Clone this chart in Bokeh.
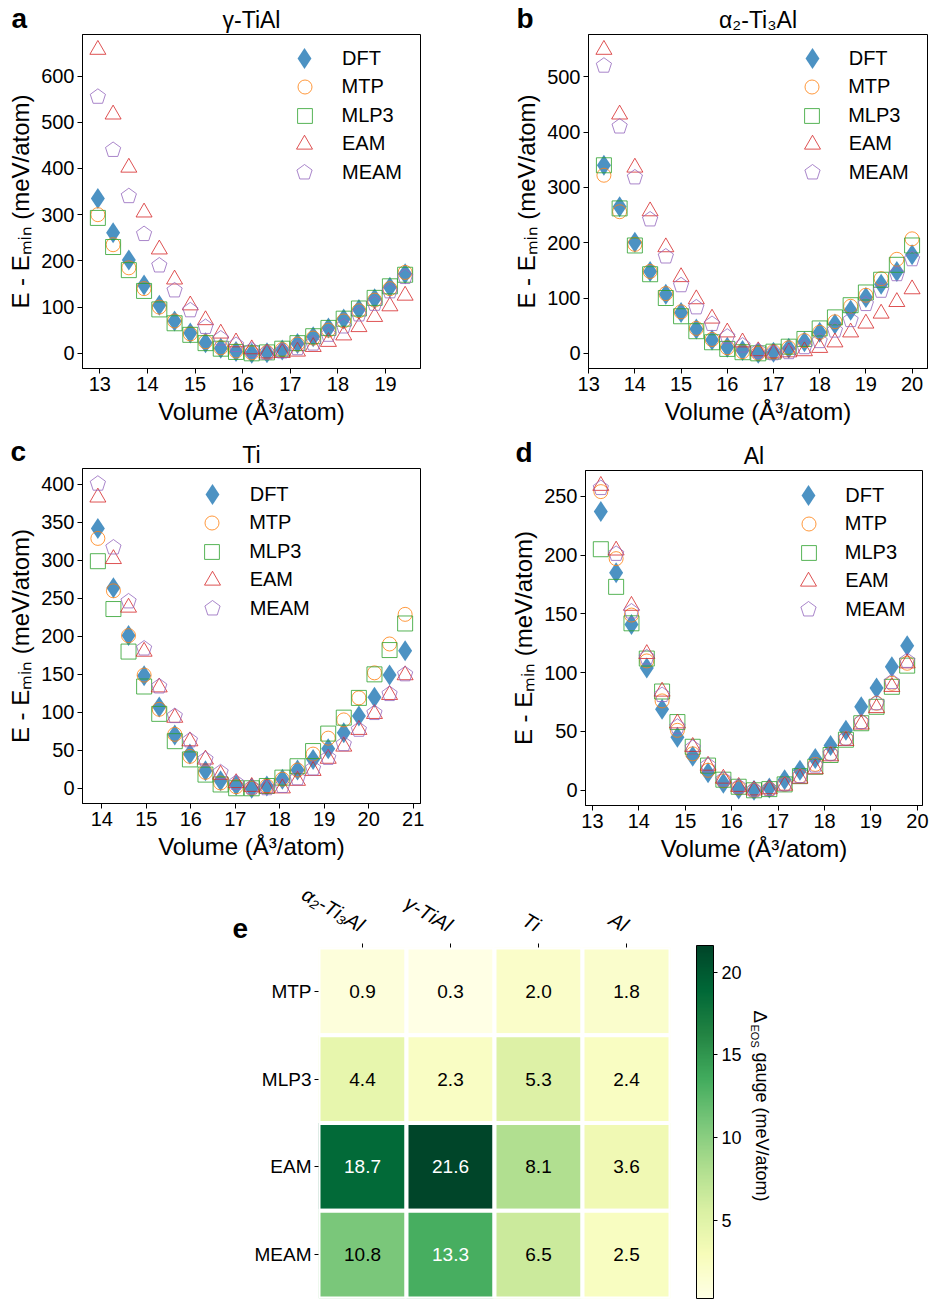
import numpy as np
from bokeh.plotting import figure
from bokeh.models import (Range1d, Legend, LegendItem, Label, FixedTicker, Plot,
                          LinearColorMapper, ColorBar, ColumnDataSource)
from bokeh.layouts import column, row
from bokeh.core.properties import value
from bokeh.embed import file_html
from bokeh.resources import INLINE

FONT = "Liberation Sans"

# ---------------- data ----------------
series_names = ["DFT", "MTP", "MLP3", "EAM", "MEAM"]

# panel a: gamma-TiAl
vol_a = [12.96, 13.28, 13.61, 13.93, 14.25, 14.57, 14.90, 15.22, 15.54, 15.86, 16.19,
         16.51, 16.83, 17.15, 17.48, 17.80, 18.12, 18.44, 18.77, 19.09, 19.41]
dft_a = [335, 261, 202, 148, 104, 70, 44, 23, 11, 4, 0, 1, 7, 21, 36, 55, 74, 95, 118, 143, 172]
mtp_a = [300, 235, 185, 140, 100, 70, 42, 25, 12, 5, 1, 2, 8, 20, 33, 50, 70, 92, 115, 140, 175]
mlp3_a = [293, 230, 180, 135, 95, 65, 40, 22, 10, 3, 0, 2, 10, 22, 37, 55, 75, 97, 120, 145, 170]
eam_a = [657, 517, 402, 305, 225, 160, 104, 72, 43, 24, 9, 0, 1, 4, 14, 25, 39, 57, 79, 102, 125]
meam_a = [555, 440, 340, 258, 190, 136, 93, 57, 32, 18, 7, 1, 4, 11, 21, 40, 58, 84, 107, 134, 165]

# panel b: alpha2-Ti3Al
vol_b = [13.33, 13.67, 14.00, 14.33, 14.67, 15.00, 15.33, 15.67, 16.00, 16.33, 16.67,
         17.00, 17.33, 17.67, 18.00, 18.33, 18.67, 19.00, 19.33, 19.67, 20.00]
dft_b = [340, 265, 201, 148, 107, 74, 44, 24, 11, 5, 0, 2, 9, 21, 38, 53, 78, 101, 125, 148, 178]
mtp_b = [322, 256, 197, 148, 108, 75, 45, 25, 10, 3, 0, 3, 10, 23, 38, 57, 85, 105, 135, 170, 207]
mlp3_b = [340, 262, 195, 143, 100, 67, 40, 20, 8, 2, 0, 3, 12, 26, 45, 65, 87, 110, 133, 160, 195]
eam_b = [549, 432, 336, 257, 192, 138, 98, 63, 38, 20, 4, 0, 2, 4, 10, 20, 38, 54, 72, 93, 116]
meam_b = [520, 410, 318, 242, 175, 123, 83, 53, 30, 14, 4, 0, 2, 11, 22, 41, 60, 89, 113, 143, 170]

# panel c: Ti
vol_c = [13.91, 14.26, 14.60, 14.95, 15.29, 15.64, 15.98, 16.33, 16.67, 17.02, 17.37,
         17.71, 18.06, 18.40, 18.75, 19.09, 19.44, 19.78, 20.13, 20.47, 20.82]
dft_c = [342, 264, 201, 148, 107, 70, 45, 23, 10, 4, 0, 3, 12, 24, 38, 52, 73, 95, 120, 149, 181]
mtp_c = [329, 260, 201, 149, 104, 71, 42, 21, 7, 2, 0, 3, 12, 24, 45, 66, 90, 119, 152, 190, 229]
mlp3_c = [299, 236, 180, 134, 98, 62, 38, 18, 5, 0, 0, 3, 14, 29, 49, 72, 93, 119, 150, 182, 217]
eam_c = [383, 302, 238, 180, 133, 93, 62, 38, 18, 7, 2, 0, 0, 10, 23, 39, 55, 77, 98, 123, 149]
meam_c = [401, 317, 246, 184, 134, 95, 63, 38, 21, 7, 1, 0, 3, 13, 26, 40, 58, 77, 99, 124, 150]

# panel d: Al
vol_d = [13.18, 13.51, 13.84, 14.17, 14.50, 14.83, 15.16, 15.49, 15.82, 16.15, 16.48,
         16.81, 17.14, 17.47, 17.80, 18.13, 18.46, 18.79, 19.12, 19.45, 19.78]
dft_d = [237, 185, 141, 104, 69, 45, 29, 15, 6, 1, 0, 2, 9, 17, 27, 38, 51, 71, 87, 105, 123]
mtp_d = [254, 197, 149, 110, 76, 51, 31, 17, 8, 2, 0, 1, 5, 12, 22, 31, 44, 58, 74, 91, 108]
mlp3_d = [205, 173, 142, 112, 84, 58, 37, 21, 9, 3, 0, 1, 5, 12, 20, 30, 43, 57, 71, 88, 106]
eam_d = [259, 204, 157, 116, 84, 57, 37, 21, 10, 3, 0, 1, 4, 10, 18, 29, 42, 56, 70, 88, 108]
meam_d = [257, 201, 152, 113, 81, 54, 36, 21, 9, 3, 0, 1, 5, 12, 21, 31, 44, 58, 74, 92, 110]

# panel e: Delta_EOS gauge (meV/atom)
hm_cols = ["α₂-Ti₃Al", "γ-TiAl", "Ti", "Al"]
hm_rows = ["MTP", "MLP3", "EAM", "MEAM"]
hm_mtp = [0.9, 0.3, 2.0, 1.8]
hm_mlp3 = [4.4, 2.3, 5.3, 2.4]
hm_eam = [18.7, 21.6, 8.1, 3.6]
hm_meam = [10.8, 13.3, 6.5, 2.5]
cbar_ticks = [5, 10, 15, 20]

# ---------------- styles ----------------
COLORS = ["#1f77b4", "#ff7f0e", "#2ca02c", "#d62728", "#9467bd"]
LEG_BOX = [52, 35, 37, 40, 40]
YLGN = ["#ffffe5", "#f7fcb9", "#d9f0a3", "#addd8e", "#78c679",
        "#41ab5d", "#238443", "#006837", "#004529"]
HAS_FRAME_ALIGN = "frame_align" in Plot.properties()
MID = 0.33  # distance (in em) from the alphabetic baseline up to the 'middle' anchor


def interp_palette(stops, n=256):
    rgb = np.array([[int(c[i:i + 2], 16) for i in (1, 3, 5)] for c in stops], float)
    pos = np.linspace(0, 1, len(stops))
    out = []
    for t in np.linspace(0, 1, n):
        r = [np.interp(t, pos, rgb[:, k]) for k in range(3)]
        out.append("#%02x%02x%02x" % tuple(int(round(v)) for v in r))
    return out


PALETTE = interp_palette(YLGN)


def no_align(f):
    if HAS_FRAME_ALIGN:
        f.frame_align = False
    return f


class Geo:
    def __init__(self, x0, y0, W, H, L, R, T, B):
        self.x0, self.y0, self.W, self.H = x0, y0, W, H
        self.L, self.R, self.T, self.B = L, R, T, B
        self.fl = x0 + L
        self.fr = x0 + W - R
        self.ft = y0 + T
        self.fb = y0 + H - B


def text_strip(W, H, items):
    """A bare canvas (frame = whole canvas, pixel coordinates) holding caption texts.
    Each item: (x, baseline_y, text, size_px, style, align, rotated)."""
    h = figure(width=W, height=H, x_range=Range1d(0, W), y_range=Range1d(H, 0),
               min_border=0, min_border_left=0, min_border_right=0, min_border_top=0,
               min_border_bottom=0, x_axis_type=None, y_axis_type=None,
               output_backend="svg", toolbar_location=None)
    no_align(h)
    h.outline_line_color = None
    h.grid.visible = False
    for (x, y, text, size, style, align, rotated) in items:
        if rotated:   # reads top-to-bottom, glyph tops face +x
            ax_, ay_, ang = x + MID * size, y, -np.pi / 2
        else:
            ax_, ay_, ang = x, y - MID * size, 0.0
        h.add_layout(Label(x=ax_, y=ay_, text=text, text_align=align, text_baseline="middle",
                           angle=ang, text_font=FONT, text_font_size=f"{size}px",
                           text_font_style=style, text_color="black"))
    return h


def style_axes(p):
    for ax in p.axis:
        ax.axis_line_color = "black"
        ax.major_tick_line_color = "black"
        ax.major_tick_out = 5
        ax.major_tick_in = 0
        ax.minor_tick_line_color = None
        ax.major_label_text_font = FONT
        ax.major_label_text_font_size = "20px"
        ax.major_label_text_color = "black"
        ax.axis_label_text_font = FONT
        ax.axis_label_text_font_size = "24px"
        ax.axis_label_text_font_style = "normal"
        ax.axis_label_text_color = "black"
        ax.major_label_standoff = 3
        ax.axis_label_standoff = 4


def panel(g, vols, series, ystep, leg):
    allv = np.concatenate([np.asarray(s, float) for s in series])
    ymin, ymax = allv.min(), allv.max()
    ypad = 0.05 * (ymax - ymin)
    xmin, xmax = min(vols), max(vols)
    xpad = 0.05 * (xmax - xmin)
    xr = (xmin - xpad, xmax + xpad)
    yr = (ymin - ypad, ymax + ypad)
    p = figure(width=g.W, height=g.H, min_border_left=g.L, min_border_right=g.R,
               min_border_top=g.T, min_border_bottom=g.B,
               x_range=Range1d(*xr), y_range=Range1d(*yr),
               output_backend="svg", toolbar_location=None,
               x_axis_label="Volume (Å³/atom)", y_axis_label="E - Eₘᵢₙ (meV/atom)")
    no_align(p)
    p.grid.visible = False
    p.outline_line_color = "black"
    p.outline_line_width = 1
    p.outline_line_alpha = 1
    p.xaxis.ticker = FixedTicker(ticks=list(range(int(np.ceil(xr[0])), int(np.floor(xr[1])) + 1)))
    p.yaxis.ticker = FixedTicker(ticks=list(range(0, int(ymax) + 1, ystep)))
    style_axes(p)

    rs = []
    rs.append(p.scatter(vols, series[0], marker="diamond", size=21, fill_color=COLORS[0],
                        fill_alpha=0.8, line_color=None))
    rs.append(p.scatter(vols, series[1], marker="circle", size=14, fill_color=None,
                        line_color=COLORS[1], line_alpha=0.8, line_width=1))
    rs.append(p.scatter(vols, series[2], marker="square", size=15, fill_color=None,
                        line_color=COLORS[2], line_alpha=0.8, line_width=1))
    rs.append(p.scatter(vols, series[3], marker="triangle", size=16, fill_color=None,
                        line_color=COLORS[3], line_alpha=0.8, line_width=1))
    try:
        rp = p.ngon(x=vols, y=series[4], radius=8, radius_units="screen", n=5,
                    fill_color=None, line_color=COLORS[4], line_alpha=0.8, line_width=1)
    except Exception:
        rp = p.scatter(vols, series[4], marker="hex", size=15, fill_color=None,
                       line_color=COLORS[4], line_alpha=0.8, line_width=1)
    rs.append(rp)

    mx, row1, labx = leg
    pitch = 28.5
    for k, (nm, r) in enumerate(zip(series_names, rs)):
        box = LEG_BOX[k]
        my = row1 + k * pitch
        vx = (mx - box / 2) - g.fl
        vy = g.fb - (my + box / 2)
        lg = Legend(items=[LegendItem(label=nm, renderers=[r])],
                    location=(vx, vy), orientation="vertical", glyph_width=box,
                    glyph_height=box, spacing=0,
                    label_standoff=int(round(labx - (mx + box / 2))), padding=0,
                    margin=0, border_line_alpha=0, background_fill_alpha=0,
                    label_text_font=FONT, label_text_font_size="20px",
                    label_text_color="black", label_height=box)
        p.add_layout(lg)
    return p


# page geometry of the four line panels (frame positions in page pixels)
ga = Geo(0, 34, 465, 401, 82, 45, 0, 67)
gb = Geo(465, 34, 466, 401, 123, 4, 0, 67)
gc = Geo(0, 468, 465, 402, 82, 45, 0, 67)
gd = Geo(465, 470, 466, 400, 120, 9, 0, 65)

pa = panel(ga, vol_a, [dft_a, mtp_a, mlp3_a, eam_a, meam_a], 100, (304, 58, 341.7))
pb = panel(gb, vol_b, [dft_b, mtp_b, mlp3_b, eam_b, meam_b], 100, (811.7, 58.3, 848.3))
pc = panel(gc, vol_c, [dft_c, mtp_c, mlp3_c, eam_c, meam_c], 50, (211.7, 494.3, 249.3))
pd = panel(gd, vol_d, [dft_d, mtp_d, mlp3_d, eam_d, meam_d], 50, (808.3, 495, 845))

ha = text_strip(465, 34, [(11, 27.5, "a", 28, "bold", "left", False),
                          ((ga.fl + ga.fr) / 2, 27, "γ-TiAl", 23, "normal", "center", False)])
hb = text_strip(466, 34, [(51, 27.5, "b", 28, "bold", "left", False),
                          ((gb.fl + gb.fr) / 2 - 465, 27, "α₂-Ti₃Al", 23, "normal", "center", False)])
hc = text_strip(465, 33, [(10, 25.5, "c", 28, "bold", "left", False),
                          ((gc.fl + gc.fr) / 2, 27, "Ti", 23, "normal", "center", False)])
hd = text_strip(466, 35, [(50, 26, "d", 28, "bold", "left", False),
                          ((gd.fl + gd.fr) / 2 - 465, 28, "Al", 23, "normal", "center", False)])

# ---------------- heatmap ----------------
ge = Geo(250, 870, 495, 430, 68, 75, 76, 2)
hm_vals = [hm_mtp, hm_mlp3, hm_eam, hm_meam]
ncol, nrow = len(hm_cols), len(hm_rows)
xs, ys, vs, txt, tcol = [], [], [], [], []
for i, rname in enumerate(hm_rows):
    for j, cname in enumerate(hm_cols):
        v = hm_vals[i][j]
        xs.append(j + 0.5)
        ys.append(nrow - i - 0.5)
        vs.append(v)
        txt.append(f"{v:.1f}")
        tcol.append("white" if v > 12 else "black")
src = ColumnDataSource(dict(x=xs, y=ys, v=vs, t=txt, c=tcol))
mapper = LinearColorMapper(palette=PALETTE, low=min(vs), high=max(vs))

pe = figure(width=ge.W, height=ge.H, min_border_left=ge.L, min_border_right=ge.R,
            min_border_top=ge.T, min_border_bottom=ge.B, x_range=Range1d(0, ncol),
            y_range=Range1d(0, nrow), output_backend="svg", toolbar_location=None,
            x_axis_location="above")
no_align(pe)
pe.grid.visible = False
pe.outline_line_color = None
pe.rect(x="x", y="y", width=1, height=1, source=src,
        fill_color={"field": "v", "transform": mapper}, line_color="white", line_width=4)
pe.text(x="x", y="y", text="t", source=src, text_align="center", text_baseline="middle",
        text_font=value(FONT), text_font_size="19px", text_color="c")
style_axes(pe)
for ax in pe.axis:
    ax.axis_line_color = None
    ax.major_tick_out = 4
    ax.major_label_text_font_size = "19px"
pe.xaxis.ticker = FixedTicker(ticks=[j + 0.5 for j in range(ncol)])
pe.xaxis.major_label_overrides = {j + 0.5: c for j, c in enumerate(hm_cols)}
pe.xaxis.major_label_orientation = -np.pi / 6
pe.xaxis.major_label_text_font_style = "italic"
pe.xaxis.major_label_text_font_size = "20px"
pe.xaxis.major_label_standoff = 17
pe.yaxis.ticker = FixedTicker(ticks=[nrow - i - 0.5 for i in range(nrow)])
pe.yaxis.major_label_overrides = {nrow - i - 0.5: r for i, r in enumerate(hm_rows)}

cb = ColorBar(color_mapper=mapper, ticker=FixedTicker(ticks=cbar_ticks),
              location=(696 - ge.fl, 0), width=17, height=353, padding=0, margin=0,
              major_tick_out=4, major_tick_in=0, major_tick_line_color="black",
              minor_tick_line_color=None, bar_line_color="black",
              major_label_text_font=FONT, major_label_text_font_size="18px",
              major_label_text_color="black", label_standoff=4,
              border_line_color=None, background_fill_alpha=0)
pe.add_layout(cb)

he = text_strip(250, 430, [(232, 937 - 870, "e", 28, "bold", "left", False)])
hcb = text_strip(186, 430, [(754 - 745, 1010 - 870, "Δ", 19, "normal", "left", True),
                            (751 - 745, 1024 - 870, "EOS", 11, "normal", "left", True),
                            (756 - 745, 1052 - 870, "gauge (meV/atom)", 18, "normal", "left",
                             True)])

layout = column(row(column(ha, pa), column(hb, pb)),
                row(column(hc, pc), column(hd, pd)),
                row(he, pe, hcb))
open("out.html", "w").write(file_html(layout, INLINE))
